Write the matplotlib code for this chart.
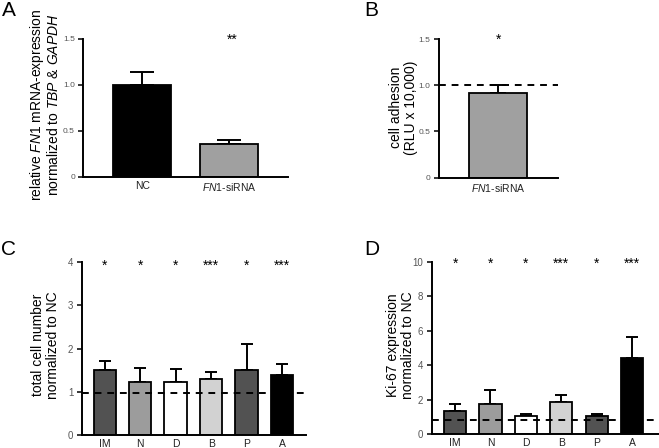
import matplotlib
matplotlib.use("Agg")
import matplotlib.pyplot as plt

plt.rcParams['font.family'] = ['Liberation Sans', 'DejaVu Sans']
plt.rcParams['mathtext.fontset'] = 'custom'
plt.rcParams['mathtext.rm'] = 'Liberation Sans'
plt.rcParams['mathtext.it'] = 'Liberation Sans:italic'

# panel A: FN1 mRNA expression
a_groups = ['NC', '$\\mathit{FN1}$-siRNA']
a_vals = [1.0, 0.36]
a_err = [1.135, 0.40]
a_colors = ['#000000', '#a0a0a0']

# panel B: cell adhesion
b_groups = ['$\\mathit{FN1}$-siRNA']
b_vals = [0.915]
b_err = [1.0]
b_colors = ['#a0a0a0']

# panels C and D
cats = ['IM', 'N', 'D', 'B', 'P', 'A']
cat_colors = ['#525252', '#9c9c9c', '#ffffff', '#d2d2d2', '#525252', '#000000']
stars = ['*', '*', '*', '***', '*', '***']
c_vals = [1.50, 1.235, 1.235, 1.29, 1.50, 1.39]
c_err = [1.72, 1.55, 1.52, 1.45, 2.10, 1.645]
d_vals = [1.36, 1.74, 1.05, 1.85, 1.06, 4.42]
d_err = [1.76, 2.55, 1.18, 2.26, 1.18, 5.62]

fig = plt.figure(figsize=(6.59, 4.48), dpi=100)


def style(ax, ticks, labels, fs):
    for s in ['top', 'right']:
        ax.spines[s].set_visible(False)
    for s in ['left', 'bottom']:
        ax.spines[s].set_linewidth(1.4)
    ax.set_yticks(ticks)
    ax.set_yticklabels(labels, fontsize=fs, color='#555555')
    ax.tick_params(axis='y', length=3.5, width=1.1, pad=2.5)
    ax.tick_params(axis='x', length=0, pad=3, labelsize=7.5, labelcolor='#222222')


def bars(ax, vals, err, colors, width, cap):
    x = list(range(len(vals)))
    ax.bar(x, vals, width=width, color=colors, edgecolor='black', linewidth=1.3, zorder=2)
    up = [e - v for e, v in zip(err, vals)]
    ax.errorbar(x, vals, yerr=[[0] * len(vals), up], fmt='none', ecolor='black',
                elinewidth=1.4, capsize=cap, capthick=1.4, zorder=1)
    return x


# A
axA = fig.add_axes([0.1264, 0.6056, 0.3111, 0.3074])
x = bars(axA, a_vals, a_err, a_colors, 0.667, 8.5)
axA.set_xlim(-0.677, 1.68)
axA.set_ylim(0, 1.5)
style(axA, [0, 0.5, 1.0, 1.5], ['0', '0.5', '1.0', '1.5'], 6)
axA.set_xticks(x)
axA.set_xticklabels(a_groups)
axA.annotate('**', (1.03, 1.5), xytext=(0, -3.4), textcoords='offset points',
             ha='center', va='baseline', fontsize=10, annotation_clip=False)

# B
axB = fig.add_axes([0.6662, 0.6033, 0.1806, 0.3096])
x = bars(axB, b_vals, b_err, b_colors, 1.0, 6)
axB.axhline(1.0, color='black', lw=1.4, ls=(0, (3.5, 3)), zorder=3)
axB.set_xlim(-1.02, 1.03)
axB.set_ylim(0, 1.5)
style(axB, [0, 0.5, 1.0, 1.5], ['0', '0.5', '1.0', '1.5'], 6)
axB.set_xticks(x)
axB.set_xticklabels(b_groups)
axB.annotate('*', (0, 1.5), xytext=(0, -3.4), textcoords='offset points',
             ha='center', va='baseline', fontsize=10, annotation_clip=False)

# C
axC = fig.add_axes([0.124, 0.029, 0.3404, 0.3855])
x = bars(axC, c_vals, c_err, cat_colors, 0.63, 4.3)
axC.axhline(0.98, color='black', lw=1.4, ls=(0, (3.5, 3)), zorder=3)
axC.set_xlim(-0.65, 5.68)
axC.set_ylim(0, 4)
style(axC, [0, 1, 2, 3, 4], ['0', '1', '2', '3', '4'], 7)
axC.set_xticks(x)
axC.set_xticklabels(cats)
for xi, s in zip(x, stars):
    axC.annotate(s, (xi, 4), xytext=(0, -5.4), textcoords='offset points',
                 ha='center', va='baseline', fontsize=10, annotation_clip=False)

# D
axD = fig.add_axes([0.655, 0.0306, 0.345, 0.3853])
x = bars(axD, d_vals, d_err, cat_colors, 0.63, 4.3)
axD.axhline(0.84, color='black', lw=1.4, ls=(0, (3.5, 3)), zorder=3)
axD.set_xlim(-0.66, 5.76)
axD.set_ylim(0, 10)
style(axD, [0, 2, 4, 6, 8, 10], ['0', '2', '4', '6', '8', '10'], 7)
axD.set_xticks(x)
axD.set_xticklabels(cats)
for xi, s in zip(x, stars):
    axD.annotate(s, (xi, 10), xytext=(0, -4.4), textcoords='offset points',
                 ha='center', va='baseline', fontsize=10, annotation_clip=False)

# y labels
fig.text(0.0675, 0.766, 'relative $\\mathit{FN1}$ mRNA-expression\nnormalized to $\\mathit{TBP}$ & $\\mathit{GAPDH}$',
         rotation=90, ha='center', va='center', fontsize=10, linespacing=1.05)
fig.text(0.612, 0.76, 'cell adhesion\n(RLU x 10,000)',
         rotation=90, ha='center', va='center', fontsize=10, linespacing=1.1)
fig.text(0.0685, 0.23, 'total cell number\nnormalized to NC',
         rotation=90, ha='center', va='center', fontsize=10, linespacing=1.1)
fig.text(0.6075, 0.23, 'Ki-67 expression\nnormalized to NC',
         rotation=90, ha='center', va='center', fontsize=10, linespacing=1.1)

# panel letters
for lab, px, py in [('A', 8.5, 10.5), ('B', 371, 10), ('C', 8.5, 249), ('D', 371.5, 249)]:
    fig.text(px / 659, 1 - py / 448, lab, fontsize=15, ha='center', va='center')

fig.savefig('out.png', dpi=100)
